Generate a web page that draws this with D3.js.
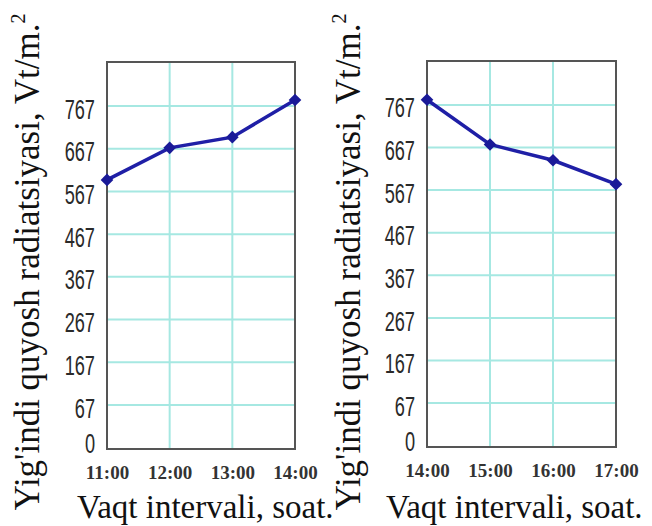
<!DOCTYPE html>
<html>
<head>
<meta charset="utf-8">
<script src="https://cdn.jsdelivr.net/npm/d3@7"></script>
<style>
  html, body { margin: 0; padding: 0; background: #fff; }
  svg { display: block; }
</style>
</head>
<body>
<svg id="chart" width="652" height="526"></svg>
<script>
// ---- data ----
const timesLeft = ["11:00", "12:00", "13:00", "14:00"];
const valuesLeft = [594, 669, 694, 781];
const timesRight = ["14:00", "15:00", "16:00", "17:00"];
const valuesRight = [779, 674, 637, 581];
const yTicks = [0, 67, 167, 267, 367, 467, 567, 667, 767];
const yTitle = "Yig'indi quyosh radiatsiyasi, Vt/m.";
const xTitle = "Vaqt intervali, soat.";

const svg = d3.select("#chart");

function panel(cfg) {
  const { times, values, left, right, top, bottom, titleBase, xTitleX } = cfg;
  const x = d3.scalePoint().domain(times).range([left, right]);
  const y = d3.scaleLinear().domain([-36, 870]).range([bottom, top]);
  const g = svg.append("g");

  // gridlines
  g.selectAll("line.hg").data(yTicks.filter(d => d > 0)).join("line")
    .attr("x1", left).attr("x2", right)
    .attr("y1", d => y(d)).attr("y2", d => y(d))
    .attr("stroke", "#a6e8e2").attr("stroke-width", 2);
  g.selectAll("line.vg").data(times.slice(1, -1)).join("line")
    .attr("x1", d => x(d)).attr("x2", d => x(d))
    .attr("y1", top).attr("y2", bottom)
    .attr("stroke", "#a6e8e2").attr("stroke-width", 2);

  // frame
  g.append("rect").attr("x", left).attr("y", top)
    .attr("width", right - left).attr("height", bottom - top)
    .attr("fill", "none").attr("stroke", "#555").attr("stroke-width", 2);

  // y axis labels
  const ya = g.append("g").attr("transform", `translate(${left},0)`)
    .call(d3.axisLeft(y).tickValues(yTicks).tickSize(0).tickFormat(d3.format("d")));
  ya.select(".domain").remove();
  ya.selectAll("text")
    .attr("font-family", "'Liberation Sans', Arial, sans-serif")
    .attr("font-size", 28)
    .attr("fill", "#2a2a2a")
    .attr("x", -12 / 0.65)
    .attr("y", d => d === 0 ? 9 : 2)
    .attr("dy", "0.36em")
    .attr("transform", "scale(0.65,1)");

  // x axis labels
  const xa = g.append("g").attr("transform", `translate(0,${bottom})`)
    .call(d3.axisBottom(x).tickSize(0));
  xa.select(".domain").remove();
  xa.selectAll("text")
    .attr("font-family", "'Liberation Serif', 'Times New Roman', serif")
    .attr("font-weight", "bold")
    .attr("font-size", 19)
    .attr("fill", "#333")
    .attr("y", 30)
    .attr("dy", 0);

  // line
  const line = d3.line().x((d, i) => x(times[i])).y(d => y(d));
  g.append("path").datum(values)
    .attr("d", line).attr("fill", "none")
    .attr("stroke", "#1f1fa6").attr("stroke-width", 3.5);

  // markers
  const sym = d3.symbol().type(d3.symbolSquare).size(80);
  g.selectAll("path.mk").data(values).join("path")
    .attr("d", sym)
    .attr("transform", (d, i) => `translate(${x(times[i])},${y(d)}) rotate(45)`)
    .attr("fill", "#1a1a98");

  // y title
  const yt = g.append("text")
    .attr("transform", `translate(${titleBase},262) rotate(-90)`)
    .attr("text-anchor", "middle")
    .attr("font-family", "'Liberation Serif', 'Times New Roman', serif")
    .attr("font-size", 35)
    .attr("fill", "#111");
  yt.append("tspan").text(yTitle);
  yt.append("tspan").attr("font-size", 20).attr("dy", -14).text("2");

  // x title
  g.append("text")
    .attr("x", xTitleX).attr("y", 518)
    .attr("font-family", "'Liberation Serif', 'Times New Roman', serif")
    .attr("font-size", 33)
    .attr("fill", "#111")
    .text(xTitle);
}

panel({ times: timesLeft, values: valuesLeft, left: 107, right: 295, top: 62, bottom: 449,
        titleBase: 39, xTitleX: 77 });
panel({ times: timesRight, values: valuesRight, left: 427, right: 616, top: 61, bottom: 447,
        titleBase: 360, xTitleX: 386 });
</script>
</body>
</html>
